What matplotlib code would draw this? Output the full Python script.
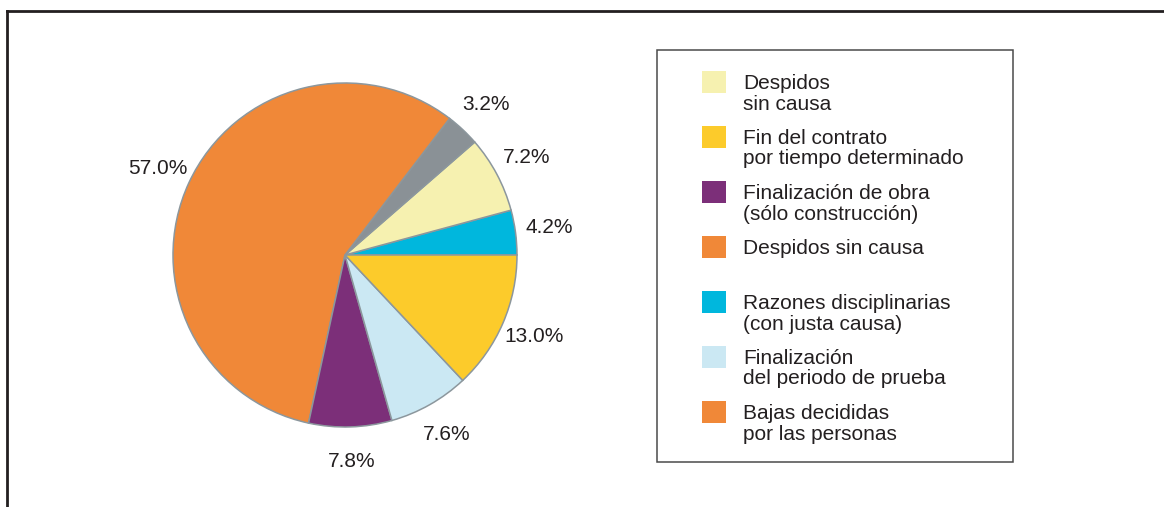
import matplotlib
matplotlib.use("Agg")
import matplotlib.pyplot as plt
from matplotlib.patches import Rectangle
from matplotlib.lines import Line2D

plt.rcParams['font.family'] = ['Liberation Sans', 'DejaVu Sans']

# pie slices, counterclockwise from 3 o'clock
shares = [4.2, 7.2, 3.2, 57.0, 7.8, 7.6, 13.0]
slice_colors = ['#00b7dd', '#f6f1b0', '#8a9196', '#f08838', '#7c2f79', '#cbe8f3', '#fccb2b']

# legend entries (top to bottom)
legend_labels = ["Despidos\nsin causa",
                 "Fin del contrato\npor tiempo determinado",
                 "Finalización de obra\n(sólo construcción)",
                 "Despidos sin causa",
                 "Razones disciplinarias\n(con justa causa)",
                 "Finalización\ndel periodo de prueba",
                 "Bajas decididas\npor las personas"]
legend_colors = ['#f6f1b0', '#fccb2b', '#7c2f79', '#f08838', '#00b7dd', '#cbe8f3', '#f08838']

W, H = 1164, 507
fig = plt.figure(figsize=(W / 100, H / 100), dpi=100)

# pie
cx, cy, r = 345, 255, 172
ax = fig.add_axes([(cx - r) / W, (H - cy - r) / H, 2 * r / W, 2 * r / H])
wedges, texts, pcts = ax.pie(shares, colors=slice_colors, startangle=0, radius=1,
                             autopct='%.1f%%', pctdistance=1.2,
                             wedgeprops=dict(edgecolor='#8c979d', linewidth=1.1),
                             textprops=dict(fontsize=15, color='#231f20'))
ax.set_xlim(-1, 1)
ax.set_ylim(-1, 1)
ax.set_aspect('equal')

# legend box
lx0, ly0, lx1, ly1 = 657, 50, 1013, 462
box = Rectangle((lx0 / W, 1 - ly1 / H), (lx1 - lx0) / W, (ly1 - ly0) / H,
                transform=fig.transFigure, facecolor='white', edgecolor='#4a4a4a', linewidth=1.1)
fig.add_artist(box)
for i, (lab, col) in enumerate(zip(legend_labels, legend_colors)):
    top = 71 + 55 * i
    fig.add_artist(Rectangle((702 / W, 1 - (top + 22) / H), 24 / W, 22 / H,
                             transform=fig.transFigure, facecolor=col, edgecolor='none'))
    for j, line in enumerate(lab.split("\n")):
        fig.text(743 / W, 1 - (top + 18 + 20.5 * j) / H, line, fontsize=15,
                 color='#231f20', ha='left', va='baseline')

# frame lines (left and top)
fig.add_artist(Line2D([6.5 / W, 6.5 / W], [0, 1 - 11 / H], transform=fig.transFigure,
                      color='#231f20', linewidth=2))
fig.add_artist(Line2D([6.5 / W, 1], [1 - 11 / H, 1 - 11 / H], transform=fig.transFigure,
                      color='#231f20', linewidth=2, solid_capstyle='projecting'))

fig.savefig("out.png", dpi=100)
